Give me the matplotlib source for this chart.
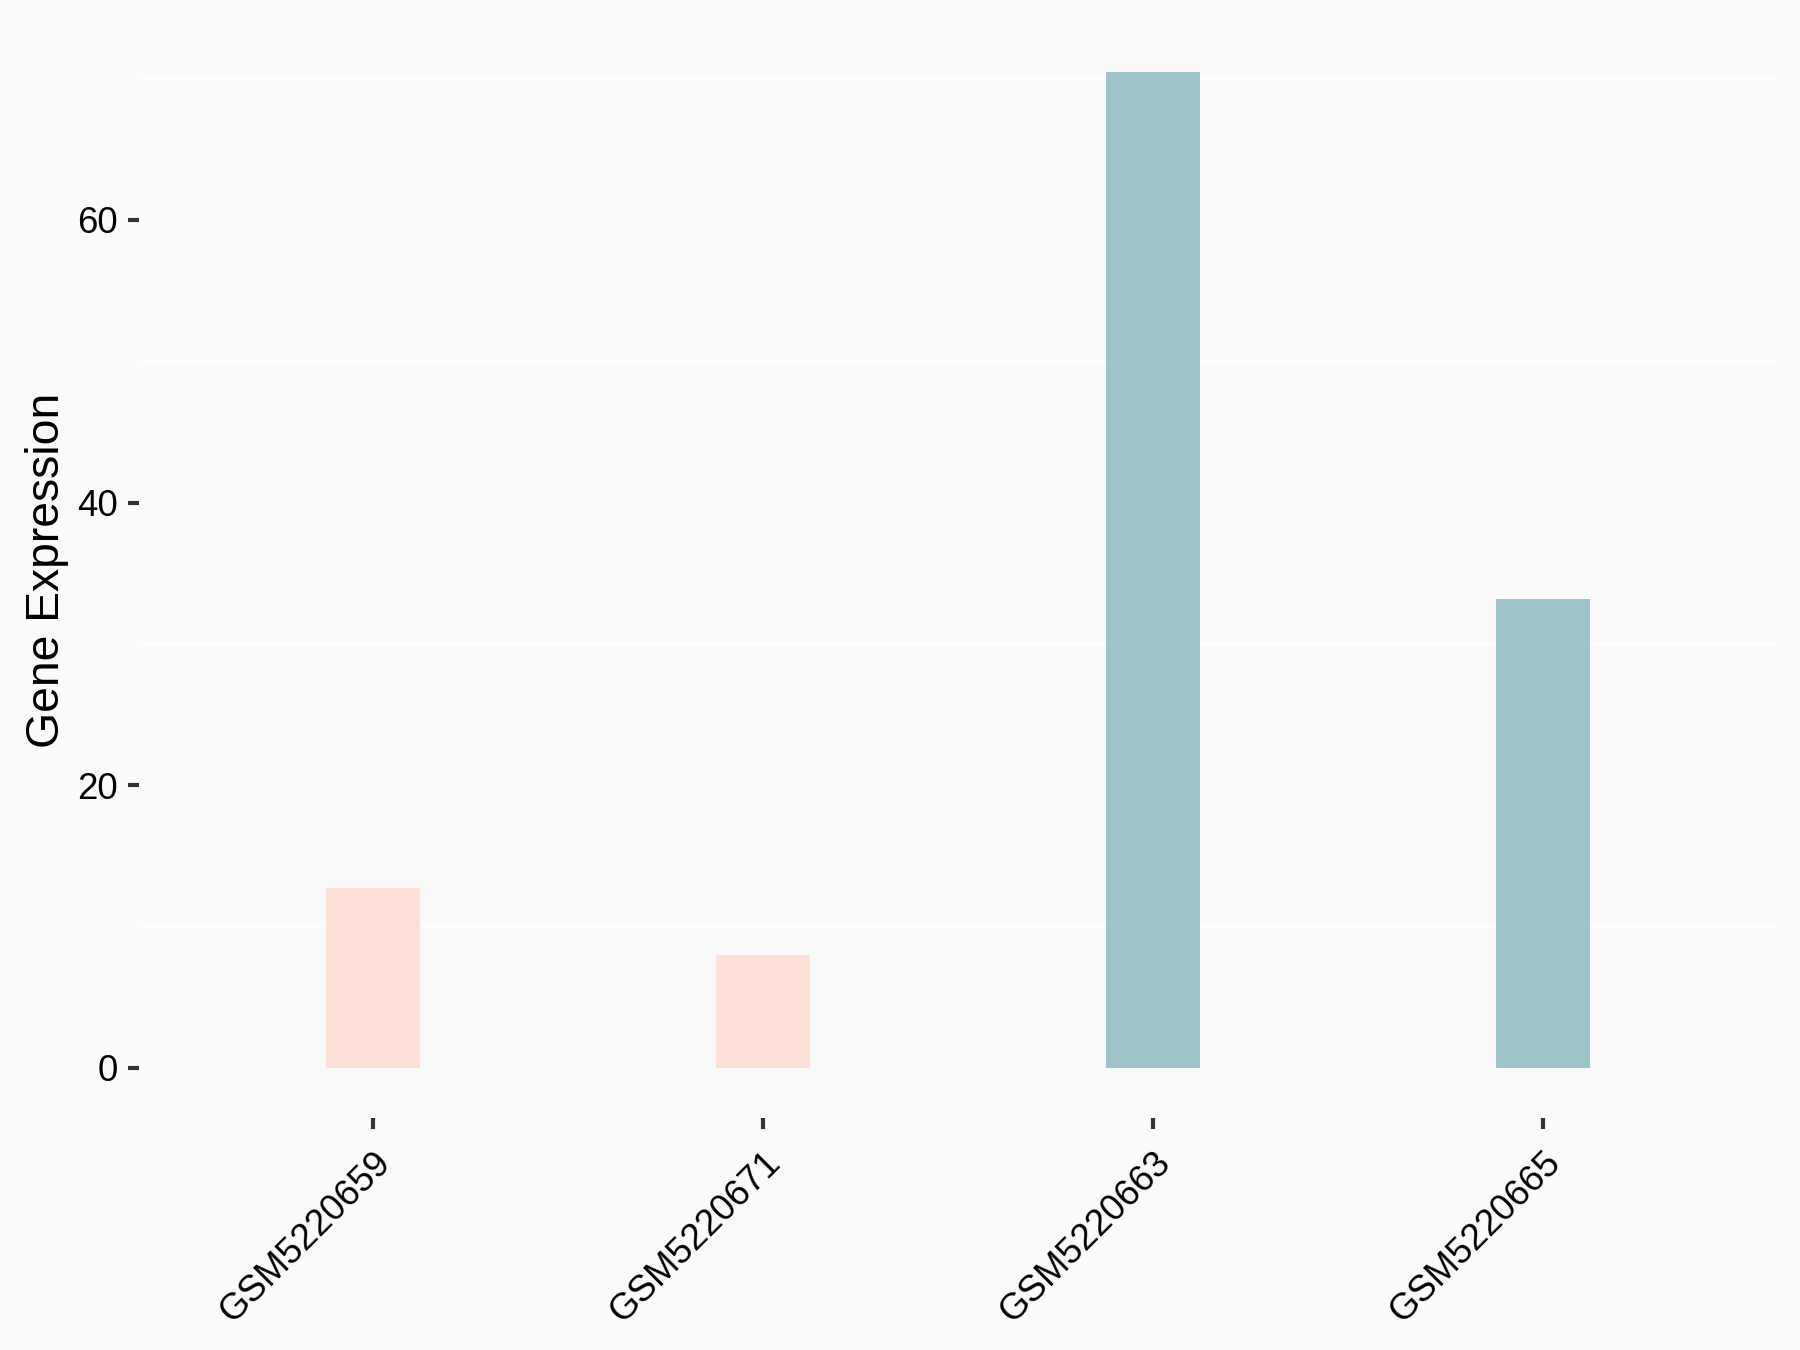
import matplotlib
matplotlib.use("Agg")
import matplotlib.pyplot as plt

samples = ["GSM5220659", "GSM5220671", "GSM5220663", "GSM5220665"]
expression = [12.7, 8.0, 70.45, 33.2]
groups = ["low", "low", "high", "high"]
group_colors = {"low": "#FFE0D7", "high": "#9DC4C8"}
y_ticks = [0, 20, 40, 60]
minor_grid = [10, 30, 50, 70]

plt.rcParams["font.family"] = ["Liberation Sans", "DejaVu Sans"]
bg = "#FAFAFA"

fig = plt.figure(figsize=(6, 4.5), dpi=300, facecolor=bg)
ax = fig.add_axes([139 / 1800, 1 - 1117.5 / 1350, (1777 - 139) / 1800, (1117.5 - 22.5) / 1350])
ax.set_facecolor(bg)

x = list(range(len(samples)))
ax.set_axisbelow(True)
for g in minor_grid:
    ax.axhline(g, color="white", linewidth=0.45, zorder=0)
ax.bar(x, expression, width=0.24, color=[group_colors[g] for g in groups], zorder=2)

ymax = max(expression)
ax.set_ylim(-0.05 * ymax, ymax * 1.05)
ax.set_xlim(-0.6, len(samples) - 0.4)
ax.set_yticks(y_ticks)
ax.set_yticklabels([str(v) for v in y_ticks])
ax.set_xticks(x)
ax.set_xticklabels(samples, rotation=45, ha="right", va="top", rotation_mode="anchor")

for s in ax.spines.values():
    s.set_visible(False)
ax.tick_params(axis="both", length=2.75, width=1.0, color="#333333", labelsize=8.8,
               labelcolor="black", pad=2.4)
ax.tick_params(axis="x", pad=4)

ax.set_ylabel("Gene Expression", fontsize=11.1, color="black")
ax.yaxis.set_label_coords((69 - 139) / 1638, 0.5)

fig.savefig("out.png", dpi=300, facecolor=bg)
